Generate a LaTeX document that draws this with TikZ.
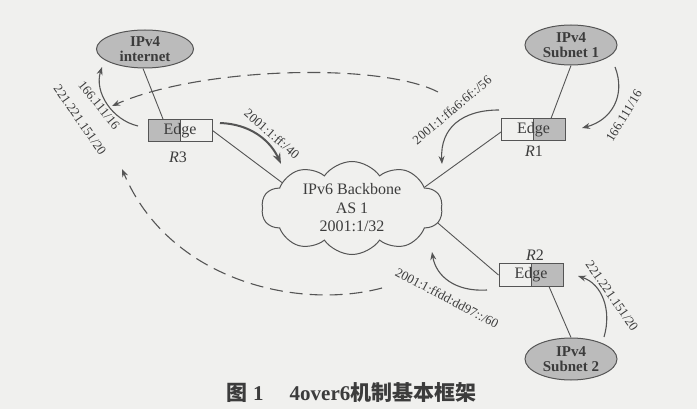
\documentclass[tikz,border=0pt]{standalone}
\usepackage{fontspec}
\setmainfont{Liberation Serif}
\newfontfamily\cjk{Noto Sans CJK SC}
\usetikzlibrary{shapes.geometric,shapes.symbols,arrows.meta}
\definecolor{ln}{HTML}{555555}
\definecolor{tx}{HTML}{3C3C3C}
\definecolor{shd}{HTML}{BBBBBB}
\definecolor{bg}{HTML}{F0F0EE}
\tikzset{
  net/.style={ellipse, draw=ln, line width=1pt, fill=shd, text=tx, align=center,
    font=\fontsize{15}{15}\selectfont\bfseries, inner sep=0pt},
  edgebox/.style={rectangle, draw=ln, line width=1pt, text=tx, minimum width=64pt,
    minimum height=22pt, inner sep=0pt, font=\fontsize{16}{18}\selectfont},
  leftshade/.style={edgebox, path picture={
    \fill[shd] (path picture bounding box.south west) rectangle (path picture bounding box.north);
    \draw[ln, line width=1pt] (path picture bounding box.north) -- (path picture bounding box.south);}},
  rightshade/.style={edgebox, path picture={
    \fill[shd] (path picture bounding box.south) rectangle (path picture bounding box.north east);
    \draw[ln, line width=1pt] (path picture bounding box.north) -- (path picture bounding box.south);}},
  link/.style={draw=ln, line width=0.9pt},
  adv/.style={draw=ln, line width=1.1pt, -{Stealth[length=8pt,width=6pt]}},
  advthick/.style={draw=ln, line width=2pt, -{Stealth[length=11pt,width=8pt]}},
  dashline/.style={draw=ln, line width=1.1pt, dash pattern=on 13pt off 7pt, -{Stealth[length=8pt,width=6pt]}},
  lbl/.style={text=tx, font=\fontsize{13}{13}\selectfont, inner sep=0pt},
  rlbl/.style={text=tx, font=\fontsize{16}{16}\selectfont, inner sep=0pt},
}
\begin{document}
\begin{tikzpicture}[x=1pt, y=-1pt]
\fill[bg] (0,0) rectangle (697,409);
\useasboundingbox (0,0) rectangle (697,409);

% clouds / networks
\node[cloud, draw=ln, line width=1pt, cloud puffs=10, cloud puff arc=110, aspect=1.9,
  minimum width=181pt, minimum height=93pt, align=center, text=tx, inner sep=0pt,
  font=\fontsize{16}{18.5}\selectfont] (bb) at (352,208) {IPv6 Backbone\\AS 1\\2001:1/32};
\node[net, minimum width=97pt, minimum height=38pt] (inet) at (145,49) {IPv4\\internet};
\node[net, minimum width=92pt, minimum height=40pt] (sub1) at (571,45) {IPv4\\Subnet 1};
\node[net, minimum width=92pt, minimum height=42pt] (sub2) at (571,359) {IPv4\\Subnet 2};

% edge routers
\node[leftshade] (r3) at (180,130.5) {Edge};
\node[rightshade] (r1) at (533.5,130) {Edge};
\node[rightshade] (r2) at (531,275) {Edge};
\node[rlbl] (r3l) at (178,157) {\textit{R}3};
\node[rlbl] (r1l) at (534,151) {\textit{R}1};
\node[rlbl] (r2l) at (535,255) {\textit{R}2};

% links
\draw[link] ([xshift=-2pt]inet.south) -- ([xshift=-17pt]r3.north);
\draw[link] (sub1.south) -- ([xshift=17.5pt]r1.north);
\draw[link] (sub2.north) -- ([xshift=18pt]r2.south);
\draw[link] (r3.east) -- (bb.160);
\draw[link] ([yshift=-2pt]r1.west) -- (bb.16);
\draw[link] (bb.-10) -- (r2.west);

% advertisement arrows
\coordinate (a1s) at (138,126); \coordinate (a1e) at (102,67);
\coordinate (a2s) at (220,123); \coordinate (a2e) at (281,164);
\coordinate (a3s) at (499,110); \coordinate (a3e) at (442,164);
\coordinate (a4s) at (615,67);  \coordinate (a4e) at (582,128);
\coordinate (a5s) at (604,337); \coordinate (a5e) at (578,276);
\coordinate (a6s) at (487,290); \coordinate (a6e) at (432,252);
\draw[adv] (a1s) .. controls (112,120) and (94,92) .. (a1e);
\draw[advthick] (a2s) .. controls (250,124) and (270,140) .. (a2e);
\draw[adv] (a3s) .. controls (462,110) and (440,128) .. (a3e);
\draw[adv] (a4s) .. controls (626,95) and (612,120) .. (a4e);
\draw[adv] (a5s) .. controls (612,310) and (602,284) .. (a5e);
\draw[adv] (a6s) .. controls (455,292) and (436,276) .. (a6e);

% dashed paths
\coordinate (d1s) at (438,92); \coordinate (d1e) at (112,106);
\coordinate (d2s) at (382,288); \coordinate (d2e) at (122,169);
\draw[dashline] (d1s) .. controls (380,62) and (200,67) .. (d1e);
\draw[dashline] (d2s) .. controls (300,310) and (170,282) .. (d2e);

% labels
\node[lbl, rotate=-51] (l1) at (99,105) {166.111/16};
\node[lbl, rotate=-55] (l2) at (80,120) {221.221.151/20};
\node[lbl, rotate=-41] (l3) at (272,134) {2001:1:ff:/40};
\node[lbl, rotate=40] (l4) at (452,110) {2001:1:ffa6:6f::/56};
\node[lbl, rotate=59] (l5) at (624,116) {166.111/16};
\node[lbl, rotate=-55] (l6) at (612,296) {221.221.151/20};
\node[lbl, rotate=-28] (l7) at (447,298) {2001:1:ffdd:dd97::/60};

% caption
\node[text=tx, font=\fontsize{21}{21}\selectfont\bfseries, inner sep=0pt, anchor=west] (cap) at (226,393)
  {{\cjk 图}\hspace{6pt}1\hspace{26pt}4over6{\cjk 机制基本框架}};
\end{tikzpicture}
\end{document}
